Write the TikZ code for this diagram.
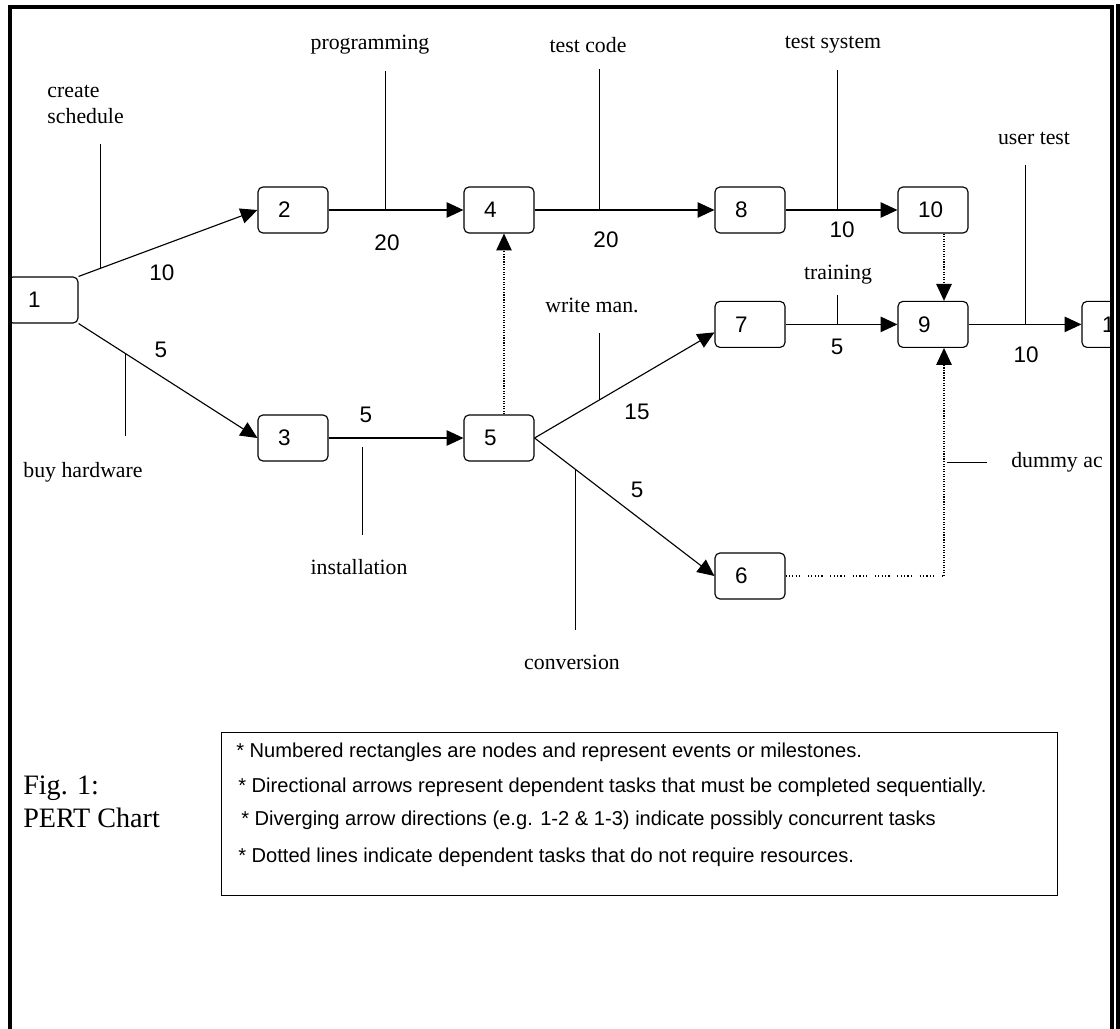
\documentclass[tikz,border=0pt]{standalone}
\usepackage{fontspec}
\setmainfont{Liberation Serif}
\newfontfamily\arialfont{Liberation Sans}
\usetikzlibrary{arrows.meta,calc}
\tikzstyle{event} = [rectangle, rounded corners=3.5pt, draw=black, line width=0.8pt, text width=0.75cm, inner xsep=0.5cm, inner ysep=0pt, minimum height=1.15cm, align=left, font=\arialfont\fontsize{16}{18}\selectfont]
\tikzstyle{arrow} = [line width=0.8pt, ->, >={Triangle[length=12pt,width=11pt]}]
\tikzstyle{tick} = [line width=0.8pt]
\tikzstyle{dummy} = [line width=0.8pt, densely dotted]
\tikzstyle{dotgroups} = [line width=0.8pt, dash pattern=on 0.8pt off 1.6pt on 0.8pt off 1.6pt on 0.8pt off 1.6pt on 0.8pt off 1.6pt on 0.8pt off 5.5pt]
\tikzstyle{task} = [inner sep=0pt, align=center, font=\fontsize{15.5}{18.5}\selectfont]
\tikzstyle{weight} = [inner sep=0pt, font=\arialfont\fontsize{16}{18}\selectfont]
\tikzstyle{note} = [inner sep=0pt, anchor=base west, font=\arialfont\fontsize{14.3}{16}\selectfont]

\begin{document}
\begin{tikzpicture}[node distance=5.15cm]
    \useasboundingbox (0,0) rectangle (28,-25.725);
    \begin{scope}
    \clip (0.25,0) rectangle (27.8,-25.725);
    % events
    \node (n1)[event] at (1.075,-7.5) {1};
    \node (n2)[event] at (7.325,-5.25) {2};
    \node (n4)[event, right of=n2] {4};
    \node (n8)[event, right of=n4, xshift=1.125cm] {8};
    \node (n10)[event, right of=n8, xshift=-0.575cm] {10};
    \node (n9)[event, node distance=2.86cm, below of=n10] {9};
    \node (n7)[event, node distance=4.575cm, left of=n9] {7};
    \node (n11)[event, node distance=4.6cm, right of=n9] {1};
    \node (n3)[event, node distance=5.7cm, below of=n2] {3};
    \node (n5)[event, right of=n3] {5};
    \node (n6)[event, node distance=6.29cm, below of=n7] {6};

    % activities
    \draw[arrow] (n1.north east) -- coordinate[pos=0.122] (cSched) (n2.west);
    \draw[arrow] (n1.south east) -- coordinate[pos=0.261] (cBuy) (n3.west);
    \draw[arrow] (n2) -- coordinate[pos=0.419] (cProg) (n4);
    \draw[arrow] (n4) -- coordinate[pos=0.359] (cCode) (n8);
    \draw[arrow] (n8) -- coordinate[pos=0.464] (cSys) (n10);
    \draw[arrow] (n3) -- coordinate[pos=0.25] (cInst) (n5);
    \draw[arrow] (n5.east) -- coordinate[pos=0.359] (cMan) ([yshift=-0.2cm]n7.west);
    \draw[arrow] (n5.east) -- coordinate[pos=0.227] (cConv) (n6.west);
    \draw[arrow] (n7) -- coordinate[pos=0.464] (cTrain) (n9);
    \draw[arrow] (n9) -- coordinate[pos=0.504] (cUser) (n11);

    % dummy activities
    \draw[dummy, arrow] ([xshift=0.125cm]n5.north) -- ([xshift=0.125cm]n4.south);
    \draw[dummy, arrow] ([xshift=0.275cm]n10.south) -- ([xshift=0.275cm]n9.north);
    \coordinate (d9) at ([xshift=0.275cm]n9.south);
    \coordinate (dCorner) at (d9 |- n6.east);
    \draw[dotgroups] (n6.east) -- (dCorner);
    \draw[dummy, arrow] (dCorner) -- coordinate[pos=0.498] (cDummy) (d9);

    % task names
    \node (tSched)[task, align=left] at (2.14,-2.6) {create\\schedule};
    \node (tProg)[task] at (9.25,-1.125) {programming};
    \node (tCode)[task] at (14.7,-1.125) {test code};
    \node (tSys)[task] at (20.825,-1.125) {test system};
    \node (tUser)[task] at (25.85,-3.45) {user test};
    \node (tTrain)[task] at (20.95,-6.875) {training};
    \node (tMan)[task] at (14.8,-7.625) {write man.};
    \node (tConv)[task] at (14.3,-16.55) {conversion};
    \node (tInst)[task] at (8.975,-14.175) {installation};
    \node (tBuy)[task] at (2.075,-11.8) {buy hardware};
    \node (tDummy)[task, anchor=west] at (25.275,-11.55) {dummy ac};

    \draw[tick] (cSched) -- ($(cSched |- tSched.south)+(0,-0.5)$);
    \draw[tick] (cProg) -- ($(cProg |- tProg.south)+(0,-0.4)$);
    \draw[tick] (cCode) -- ($(cCode |- tCode.south)+(0,-0.4)$);
    \draw[tick] (cSys) -- ($(cSys |- tSys.south)+(0,-0.4)$);
    \draw[tick] (cUser) -- ($(cUser |- tUser.south)+(0,-0.5)$);
    \draw[tick] (cTrain) -- ($(cTrain |- tTrain.south)+(0,-0.25)$);
    \draw[tick] (cMan) -- ($(cMan |- tMan.south)+(0,-0.5)$);
    \draw[tick] (cConv) -- ($(cConv |- tConv.north)+(0,0.6)$);
    \draw[tick] ($(cInst)+(0,-0.225)$) -- ($(cInst |- tInst.north)+(0,0.6)$);
    \draw[tick] (cBuy) -- ($(cBuy |- tBuy.north)+(0,0.65)$);
    \draw[tick] ($(cDummy)+(0.075,0)$) -- ($(cDummy -| tDummy.west)+(-0.6,0)$);

    % durations
    \node (w12)[weight] at (4.05,-6.825) {10};
    \node (w24)[weight] at (9.675,-6.075) {20};
    \node (w48)[weight] at (15.15,-6.0) {20};
    \node (w810)[weight] at (21.05,-5.75) {10};
    \node (w79)[weight] at (20.925,-8.675) {5};
    \node (w911)[weight] at (25.65,-8.875) {10};
    \node (w13)[weight] at (4.025,-8.75) {5};
    \node (w35)[weight] at (9.15,-10.375) {5};
    \node (w57)[weight] at (15.925,-10.3) {15};
    \node (w56)[weight] at (15.925,-12.25) {5};
    \end{scope}

    % frame
    \draw[line width=2.2pt] (0.25,-25.725) -- (0.25,-0.175) -- (27.8,-0.175) -- (27.8,-25.725);
    \draw[line width=2.2pt] (27.95,-0.1) -- (27.95,-25.725);

    % caption and notes
    \node (fig)[anchor=west, align=left, inner sep=0pt, font=\fontsize{20}{23.5}\selectfont] at (0.575,-20.04) {Fig. 1:\\PERT Chart};
    \node (legend)[draw, line width=0.8pt, anchor=north west, minimum width=20.9cm, minimum height=4.075cm, inner sep=0pt] at (5.525,-18.3) {};
    \node (l1)[note] at (5.9,-18.925) {* Numbered rectangles are nodes and represent events or milestones.};
    \node (l2)[note] at (5.95,-19.8) {* Directional arrows represent dependent tasks that must be completed sequentially.};
    \node (l3)[note] at (6.025,-20.625) {* Diverging arrow directions (e.g. 1-2 \& 1-3) indicate possibly concurrent tasks};
    \node (l4)[note] at (5.95,-21.55) {* Dotted lines indicate dependent tasks that do not require resources.};
\end{tikzpicture}
\end{document}
